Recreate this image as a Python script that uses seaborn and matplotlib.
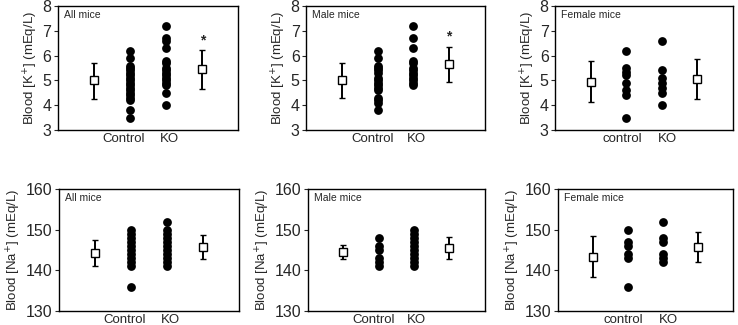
import numpy as np
import pandas as pd
import seaborn as sns
import matplotlib
matplotlib.use("Agg")
import matplotlib.pyplot as plt

sns.set_style("ticks")
plt.rcParams['font.family'] = ['Liberation Sans', 'DejaVu Sans']

# ---- data ----
# potassium, individual values
k_all_control = [6.2, 5.9, 5.6, 5.5, 5.4, 5.3, 5.2, 5.1, 5.0, 4.9, 4.8, 4.7, 4.6, 4.5, 4.4, 4.3, 4.2, 3.8, 3.5]
k_all_ko = [7.2, 6.7, 6.6, 6.3, 5.8, 5.7, 5.5, 5.4, 5.3, 5.2, 5.1, 5.0, 4.9, 4.8, 4.5, 4.0]
k_male_control = [6.2, 5.9, 5.6, 5.5, 5.4, 5.3, 5.1, 5.0, 4.9, 4.8, 4.7, 4.6, 4.3, 4.2, 4.1, 3.8]
k_male_ko = [7.2, 6.7, 6.3, 5.8, 5.7, 5.5, 5.4, 5.3, 5.2, 5.1, 5.0, 4.9, 4.8]
k_female_control = [6.2, 5.5, 5.35, 5.2, 4.9, 4.6, 4.4, 3.5]
k_female_ko = [6.6, 5.4, 5.1, 4.9, 4.7, 4.5, 4.0]

# sodium, individual values
na_all_control = [150, 149, 148, 147, 146, 145, 144, 143, 142, 141, 136]
na_all_ko = [152, 150, 149, 148, 147, 146, 145, 144, 143, 142, 141]
na_male_control = [148, 146, 145, 143, 142, 141]
na_male_ko = [150, 149, 148, 147, 146, 145, 144, 143, 142, 141]
na_female_control = [150, 147, 146, 144, 143, 136]
na_female_ko = [152, 148, 147, 144, 143, 142]

# summary markers: mean, lower end, upper end (control, KO)
k_all_summary = [(5.0, 4.25, 5.71), (5.45, 4.65, 6.22)]
k_male_summary = [(5.0, 4.28, 5.7), (5.65, 4.92, 6.35)]
k_female_summary = [(4.95, 4.11, 5.78), (5.05, 4.23, 5.85)]
na_all_summary = [(144.3, 141.1, 147.5), (145.8, 142.8, 148.7)]
na_male_summary = [(144.5, 142.8, 146.3), (145.5, 142.9, 148.2)]
na_female_summary = [(143.4, 138.3, 148.5), (145.8, 142.1, 149.5)]

panel_titles = ["All mice", "Male mice", "Female mice"]
group_labels = [["Control", "KO"], ["Control", "KO"], ["control", "KO"]]
k_star = [True, True, False]

k_points = [(k_all_control, k_all_ko), (k_male_control, k_male_ko), (k_female_control, k_female_ko)]
na_points = [(na_all_control, na_all_ko), (na_male_control, na_male_ko), (na_female_control, na_female_ko)]
k_summ = [k_all_summary, k_male_summary, k_female_summary]
na_summ = [na_all_summary, na_male_summary, na_female_summary]

fig = plt.figure(figsize=(7.38, 3.25), dpi=100)

top_rects = [[0.078, 0.6, 0.245, 0.3815], [0.4146, 0.6, 0.2425, 0.3815], [0.752, 0.6, 0.241, 0.3815]]
bot_rects = [[0.080, 0.043, 0.244, 0.375], [0.417, 0.043, 0.240, 0.375], [0.756, 0.043, 0.237, 0.375]]
label_pos = [[1.82, 3.08], [1.85, 3.08], [1.88, 3.17]]


def draw_panel(ax, pts, summ, title, labels, lpos, ylim, yticks, ylabel, star):
    control, ko = pts
    df = pd.DataFrame({
        "x": [2] * len(control) + [3] * len(ko),
        "value": control + ko,
    })
    sns.scatterplot(data=df, x="x", y="value", ax=ax, color="black", s=40,
                    edgecolor="black", linewidth=0, legend=False, zorder=3)
    # mean +/- sd markers at the outer positions
    for xpos, (m, lo, hi) in zip([1, 4], summ):
        ax.errorbar([xpos], [m], yerr=[[m - lo], [hi - m]], fmt="s", color="black",
                    mfc="white", mec="black", ms=5.5, mew=1, elinewidth=1.4,
                    capsize=2.5, capthick=1.4, zorder=4)
    if star:
        m, lo, hi = summ[1]
        ax.text(4, hi + 0.12, "*", ha="center", va="bottom", fontsize=10, fontweight="bold")
    ax.set_xlim(0, 5)
    ax.set_ylim(*ylim)
    ax.set_yticks(yticks)
    ax.set_xticks(lpos)
    ax.set_xticklabels(labels, fontsize=9.5)
    ax.tick_params(axis="x", length=0, pad=2.5)
    ax.tick_params(axis="y", labelsize=11.5, length=3, width=0.8, pad=1.5)
    ax.set_xlabel("")
    ax.set_ylabel(ylabel, fontsize=9.5, labelpad=2)
    for sp in ax.spines.values():
        sp.set_visible(True)
        sp.set_linewidth(1)
        sp.set_color("black")
    ax.text(0.035, 0.97, title, transform=ax.transAxes, ha="left", va="top", fontsize=7.5)


for i in range(3):
    ax = fig.add_axes(top_rects[i])
    draw_panel(ax, k_points[i], k_summ[i], panel_titles[i], group_labels[i], label_pos[i],
               (3, 8), [3, 4, 5, 6, 7, 8], "Blood [K$^{+}$] (mEq/L)", k_star[i])
    ax = fig.add_axes(bot_rects[i])
    draw_panel(ax, na_points[i], na_summ[i], panel_titles[i], group_labels[i], label_pos[i],
               (130, 160), [130, 140, 150, 160], "Blood [Na$^{+}$] (mEq/L)", False)

fig.savefig("out.png", dpi=100)
